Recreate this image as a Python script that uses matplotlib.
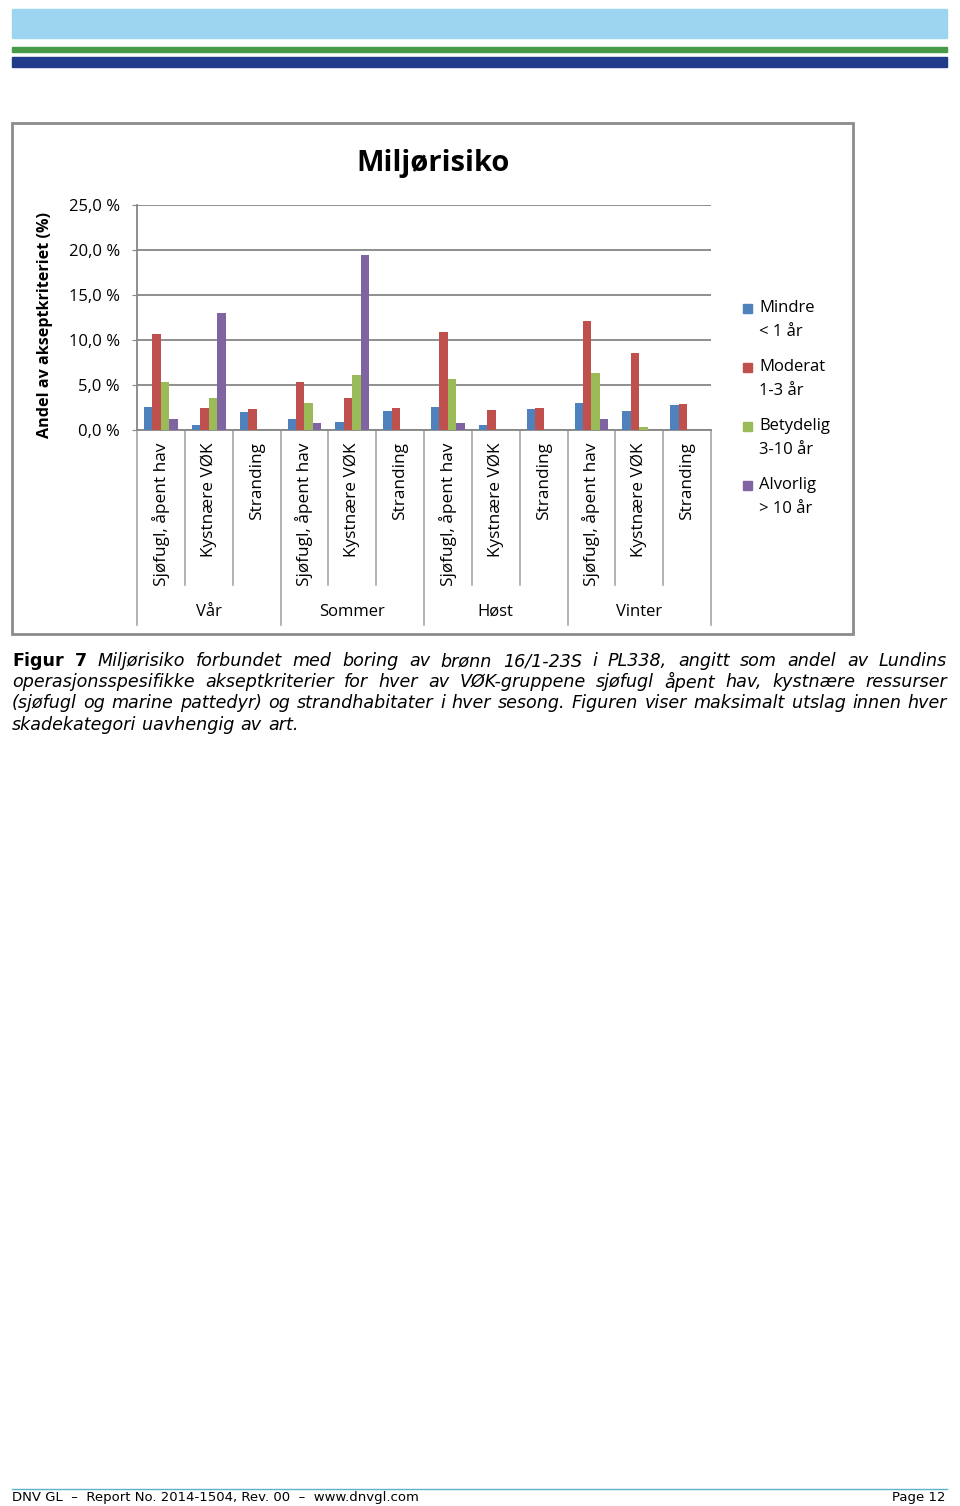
"""
Miljørisiko - figur 7 (DNV GL rapport)
"""
import matplotlib
matplotlib.use('Agg')
import matplotlib.pyplot as plt
from matplotlib.patches import Rectangle
from matplotlib.transforms import blended_transform_factory

# Data (andel av akseptkriteriet, %)
seasons = ['Vår', 'Sommer', 'Høst', 'Vinter']
categories = ['Sjøfugl, åpent hav', 'Kystnære VØK', 'Stranding'] * 4
series = ['Mindre\n< 1 år', 'Moderat\n1-3 år', 'Betydelig\n3-10 år', 'Alvorlig\n> 10 år']
mindre = [2.6, 0.55, 2.0, 1.2, 0.85, 2.15, 2.6, 0.55, 2.3, 3.0, 2.15, 2.75]
moderat = [10.7, 2.5, 2.3, 5.3, 3.55, 2.5, 10.9, 2.2, 2.5, 12.1, 8.6, 2.85]
betydelig = [5.3, 3.6, 0.0, 3.0, 6.1, 0.0, 5.7, 0.0, 0.0, 6.3, 0.33, 0.0]
alvorlig = [1.2, 13.0, 0.0, 0.75, 19.4, 0.0, 0.75, 0.0, 0.0, 1.2, 0.0, 0.0]
yticks = [0, 5, 10, 15, 20, 25]
ytick_labels = ['0,0 %', '5,0 %', '10,0 %', '15,0 %', '20,0 %', '25,0 %']

colors = ['#4F81BD', '#C0504D', '#9BBB59', '#8064A2']
chart_font = 'Open Sans'

W, H = 960, 1506
fig = plt.figure(figsize=(W / 100, H / 100), dpi=100)


def fx(px):
    return px / W


def fy(py):
    return 1 - py / H


# page header bands
fig.patches.append(Rectangle((fx(12), fy(38)), fx(935), 29 / H, color='#9DD5F0',
                             transform=fig.transFigure))
fig.patches.append(Rectangle((fx(12), fy(52)), fx(935), 5 / H, color='#479A47',
                             transform=fig.transFigure))
fig.patches.append(Rectangle((fx(12), fy(67)), fx(935), 10 / H, color='#223C8C',
                             transform=fig.transFigure))

# chart frame
fig.patches.append(Rectangle((fx(12), fy(634)), fx(841), 511 / H, facecolor='white',
                             edgecolor='#8C8C8C', linewidth=2, zorder=-1,
                             transform=fig.transFigure))

ax = fig.add_axes([fx(137), fy(430), fx(574), 225 / H])
ax.patch.set_alpha(0)
x = [i + 0.5 for i in range(len(categories))]
bw = 0.176
for k, vals in enumerate([mindre, moderat, betydelig, alvorlig]):
    off = (k - 1.5) * bw
    ax.bar([xi + off for xi in x], vals, width=bw, color=colors[k], zorder=3)

ax.set_xlim(0, 12)
ax.set_ylim(0, 25)
ax.set_yticks(yticks)
ax.set_yticklabels(ytick_labels, fontsize=12, family=chart_font)
ax.tick_params(axis='y', length=3.6, color='#868686', pad=8.6)
ax.set_xticks([])
ax.grid(axis='y', color='#868686', linewidth=1.3, zorder=0)
for s in ['top', 'right']:
    ax.spines[s].set_visible(False)
ax.spines['left'].set_color('#868686')
ax.spines['bottom'].set_color('#868686')
ax.spines['left'].set_linewidth(1.3)
ax.spines['bottom'].set_linewidth(1.3)

# category separators and labels below the axis
trans = blended_transform_factory(ax.transData, ax.transAxes)
for i in range(13):
    bottom = -0.867 if i % 3 == 0 else -0.689
    ax.plot([i, i], [0, bottom], color='#A6A6A6', linewidth=1.2,
            transform=trans, clip_on=False)
for xi, name in zip(x, categories):
    ax.text(xi, -0.055, name, rotation=90, ha='center', va='top', fontsize=12.4,
            family=chart_font, transform=trans)
for j, s in enumerate(seasons):
    ax.text(3 * j + 1.5, -0.809, s, ha='center', va='center', fontsize=12,
            family=chart_font, transform=trans)

ax.set_ylabel('Andel av akseptkriteriet (%)', fontsize=11.6, fontweight='bold',
              family=chart_font)
ax.yaxis.set_label_coords((53 - 137) / 574, 0.467)

fig.text(fx(433), fy(163), 'Miljørisiko', ha='center', va='center', fontsize=21,
         fontweight='bold', family=chart_font)

# legend
legend_y = [308, 367, 426, 485]
for k, (lab, yy) in enumerate(zip(series, legend_y)):
    fig.patches.append(Rectangle((fx(743), fy(yy + 5)), fx(9), 9 / H, color=colors[k],
                                 transform=fig.transFigure))
    first, second = lab.split('\n')
    fig.text(fx(759), fy(yy), first, ha='left', va='center', fontsize=12,
             family=chart_font)
    fig.text(fx(759), fy(yy + 24), second, ha='left', va='center', fontsize=12,
             family=chart_font)

# caption, justified
caption_lines = [
    [('Figur', 'bold'), ('7', 'bold')] + [(w, 'italic') for w in
     'Miljørisiko forbundet med boring av brønn 16/1-23S i PL338, angitt som andel av Lundins'.split()],
    [(w, 'italic') for w in
     'operasjonsspesifikke akseptkriterier for hver av VØK-gruppene sjøfugl åpent hav, kystnære ressurser'.split()],
    [(w, 'italic') for w in
     '(sjøfugl og marine pattedyr) og strandhabitater i hver sesong. Figuren viser maksimalt utslag innen hver'.split()],
    [(w, 'italic') for w in 'skadekategori uavhengig av art.'.split()],
]
caption_y = [661, 682, 703, 725]
renderer = fig.canvas.get_renderer()
left, right = 12, 947
for n, (words, yy) in enumerate(zip(caption_lines, caption_y)):
    texts = []
    for w, style in words:
        kw = dict(fontsize=12.6, family='DejaVu Sans', ha='left', va='center')
        if style == 'bold':
            kw['fontweight'] = 'bold'
        else:
            kw['fontstyle'] = 'italic'
        texts.append(fig.text(0, fy(yy), w, **kw))
    widths = [t.get_window_extent(renderer).width for t in texts]
    if n == len(caption_lines) - 1:
        gap = 6
    else:
        gap = (right - left - sum(widths)) / (len(texts) - 1)
    pos = left
    for t, wd in zip(texts, widths):
        t.set_x(fx(pos))
        pos += wd + gap

# footer
fig.lines.append(plt.Line2D([fx(12), fx(947)], [fy(1489), fy(1489)], color='#5BB4C8',
                            linewidth=1, transform=fig.transFigure))
fig.text(fx(12), fy(1497), 'DNV GL  –  Report No. 2014-1504, Rev. 00  –  www.dnvgl.com',
         ha='left', va='center', fontsize=9.5, family='DejaVu Sans')
fig.text(fx(946), fy(1497), 'Page 12', ha='right', va='center', fontsize=9.5,
         family='DejaVu Sans')

fig.savefig('out.png', dpi=100)
